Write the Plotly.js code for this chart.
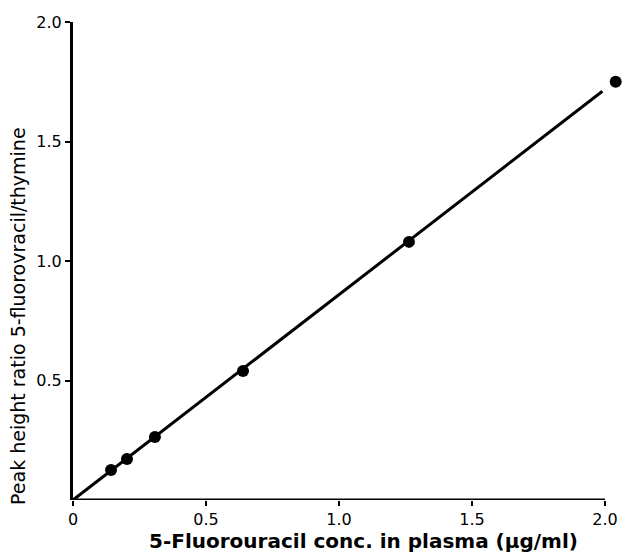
<!DOCTYPE html>
<html>
<head>
<meta charset="utf-8">
<script src="https://cdn.plot.ly/plotly-3.0.1.min.js"></script>
<style>html,body{margin:0;padding:0;background:#fff;}#chart{width:622px;height:552px;}</style>
</head>
<body>
<div id="chart"></div>
<script>
// Data
const concX = [0.143, 0.203, 0.308, 0.639, 1.263, 2.04];
const ratioY = [0.126, 0.172, 0.264, 0.54, 1.08, 1.75];
const fitX = [0, 1.99];
const fitY = [0, 1.71];
const xTickVals = [0, 0.5, 1.0, 1.5, 2.0];
const xTickText = ["0", "0.5", "1.0", "1.5", "2.0"];
const yTickVals = [0.5, 1.0, 1.5, 2.0];
const yTickText = ["0.5", "1.0", "1.5", "2.0"];
const xAxisEnd = 2.0;

const font = "DejaVu Sans, Liberation Sans, sans-serif";

const traces = [
  {x: fitX, y: fitY, mode: "lines", type: "scatter",
   line: {color: "#000", width: 3}, hoverinfo: "skip", showlegend: false},
  {x: concX, y: ratioY, mode: "markers", type: "scatter", cliponaxis: false,
   marker: {color: "#000", size: 12}, showlegend: false}
];

const layout = {
  width: 622, height: 552,
  margin: {l: 73, r: 1, t: 22, b: 52},
  paper_bgcolor: "#fff", plot_bgcolor: "#fff",
  font: {family: font, color: "#000", size: 16},
  xaxis: {range: [0, 2.06], tickvals: xTickVals, ticktext: xTickText,
    showgrid: false, zeroline: false, showline: false,
    ticks: "outside", ticklen: 5, tickwidth: 2, tickcolor: "#000",
    tickfont: {family: font, size: 16}, title: {text: ""}},
  yaxis: {range: [0, 2.0], tickvals: yTickVals, ticktext: yTickText,
    showgrid: false, zeroline: false, showline: true, linecolor: "#000", linewidth: 3,
    ticks: "outside", ticklen: 5, tickwidth: 2, tickcolor: "#000",
    tickfont: {family: font, size: 16}, title: {text: ""}},
  shapes: [
    {type: "line", xref: "x", yref: "y", x0: 0, x1: xAxisEnd, y0: 0, y1: 0,
     line: {color: "#000", width: 3}}
  ],
  annotations: [
    {text: "<b>5-Fluorouracil conc. in plasma (µg/ml)</b>", xref: "paper", yref: "paper",
     x: 0.53, y: 0, yshift: -41, xanchor: "center", yanchor: "middle", showarrow: false,
     font: {family: font, size: 20, color: "#000"}},
    {text: "Peak height ratio 5-fluorovracil/thymine", xref: "paper", yref: "paper",
     x: 0, xshift: -55, y: 0.385, xanchor: "center", yanchor: "middle", showarrow: false, textangle: -90,
     font: {family: font, size: 19, color: "#000"}}
  ]
};

Plotly.newPlot("chart", traces, layout, {displayModeBar: false, staticPlot: true});
</script>
</body>
</html>
